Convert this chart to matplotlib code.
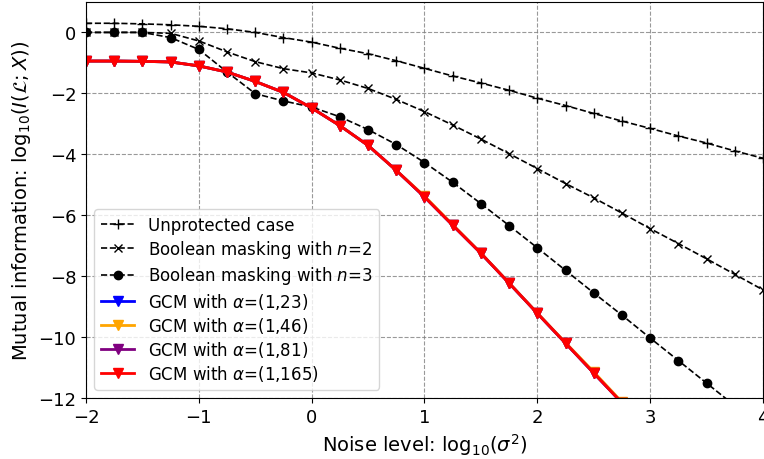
import numpy as np
import matplotlib
matplotlib.use("Agg")
import matplotlib.pyplot as plt

# noise level log10(sigma^2), step 0.25
x = np.arange(-2, 4.01, 0.25)

unprotected = [0.30, 0.30, 0.28, 0.25, 0.20, 0.12, 0.00, -0.17, -0.32, -0.52, -0.70, -0.93,
               -1.18, -1.43, -1.66, -1.90, -2.16, -2.40, -2.66, -2.91, -3.15, -3.40, -3.63, -3.89, -4.13]
bool_n2 = [0.00, 0.00, 0.00, -0.03, -0.28, -0.64, -0.96, -1.19, -1.33, -1.56, -1.84, -2.20,
           -2.60, -3.04, -3.50, -3.98, -4.47, -4.96, -5.43, -5.93, -6.44, -6.93, -7.43, -7.94, -8.45]
bool_n3 = [0.00, 0.00, 0.00, -0.17, -0.56, -1.30, -2.01, -2.25, -2.45, -2.77, -3.19, -3.68,
           -4.27, -4.92, -5.62, -6.34, -7.07, -7.81, -8.55, -9.28, -10.03, -10.77, -11.51, -12.25]
gcm_165 = [-0.94, -0.94, -0.95, -0.97, -1.10, -1.30, -1.61, -1.97, -2.48, -3.06, -3.71, -4.53,
           -5.40, -6.33, -7.25, -8.23, -9.22, -10.20, -11.18, -12.16]
gcm_23 = list(gcm_165)
gcm_46 = [-0.94, -0.94, -0.95, -0.97, -1.10, -1.30, -1.61, -1.97, -2.48, -3.06, -3.71, -4.53,
          -5.37, -6.31, -7.24, -8.22, -9.21, -10.18, -11.14, -12.13]
gcm_81 = list(gcm_165)

fig = plt.figure(figsize=(7.64, 4.6), dpi=100)
ax = fig.add_axes([0.1126, 0.1326, 0.886, 0.861])

ax.plot(x[:len(unprotected)], unprotected, '--', color='k', marker='+', ms=7, lw=1.2, label='Unprotected case')
ax.plot(x[:len(bool_n2)], bool_n2, '--', color='k', marker='x', ms=6, lw=1.2, label='Boolean masking with $n$=2')
ax.plot(x[:len(bool_n3)], bool_n3, '--', color='k', marker='o', ms=6, lw=1.2, label='Boolean masking with $n$=3')
ax.plot(x[:len(gcm_23)], gcm_23, '-', color='blue', marker='v', ms=7, lw=2, label=r'GCM with $\alpha$=(1,23)')
ax.plot(x[:len(gcm_46)], gcm_46, '-', color='orange', marker='v', ms=7, lw=2, label=r'GCM with $\alpha$=(1,46)')
ax.plot(x[:len(gcm_81)], gcm_81, '-', color='purple', marker='v', ms=7, lw=2, label=r'GCM with $\alpha$=(1,81)')
ax.plot(x[:len(gcm_165)], gcm_165, '-', color='red', marker='v', ms=7, lw=2, label=r'GCM with $\alpha$=(1,165)')

ax.set_xlim(-2, 4)
ax.set_ylim(-12, 1)
ax.set_xticks(range(-2, 5))
ax.set_yticks(range(-12, 1, 2))
ax.tick_params(labelsize=13)
ax.grid(True, ls='--', color='gray', alpha=0.8)
ax.set_xlabel(r'Noise level: $\mathrm{log}_{10}(\sigma^2)$', fontsize=14)
ax.set_ylabel(r'Mutual information: $\mathrm{log}_{10}(I(\mathcal{L};X))$', fontsize=14)
ax.legend(loc='lower left', fontsize=12, handlelength=2.0, labelspacing=0.25)

fig.savefig('out.png', dpi=100)
